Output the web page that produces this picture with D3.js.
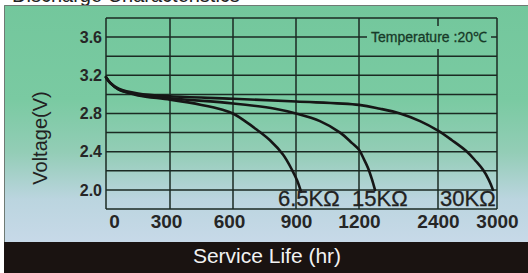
<!DOCTYPE html>
<html>
<head>
<meta charset="utf-8">
<script src="https://cdn.jsdelivr.net/npm/d3@7"></script>
<style>
  body { margin: 0; background: #fff; }
  svg { display: block; font-family: "Liberation Sans", Arial, sans-serif; }
</style>
</head>
<body>
<svg id="canvas"></svg>
<script>
// ---- data ----
let seriesNames = ["6.5KΩ", "15KΩ", "30KΩ"];
let hours65 = [0, 20, 60, 150, 300, 450, 550, 600, 657, 714, 776, 838, 881, 905, 924];
let volts65 = [3.18, 3.12, 3.05, 2.99, 2.945, 2.89, 2.84, 2.80, 2.72, 2.63, 2.52, 2.37, 2.21, 2.10, 1.98];
let hours15 = [0, 20, 60, 150, 300, 600, 800, 900, 1014, 1110, 1167, 1200, 1276, 1337, 1397, 1443];
let volts15 = [3.18, 3.12, 3.05, 3.0, 2.96, 2.905, 2.85, 2.80, 2.72, 2.60, 2.49, 2.42, 2.32, 2.23, 2.11, 2.0];
let hours30 = [0, 20, 60, 150, 300, 600, 900, 1200, 1519, 1823, 2127, 2400, 2542, 2695, 2786, 2858, 2919, 2959];
let volts30 = [3.18, 3.12, 3.06, 3.01, 2.98, 2.955, 2.925, 2.89, 2.85, 2.80, 2.72, 2.62, 2.52, 2.40, 2.30, 2.21, 2.10, 2.0];
let xTicks = [0, 300, 600, 900, 1200, 2400, 3000];
let yTicks = [3.6, 3.2, 2.8, 2.4, 2.0];
let yGrid = [1.8, 2.0, 2.2, 2.4, 2.6, 2.8, 3.0, 3.2, 3.4, 3.6, 3.8];

let width = 528;
let height = 273;
let plotLeft = 106, plotRight = 497, plotTop = 18, plotBottom = 209;

let canvas = d3.select("#canvas").attr("width", width).attr("height", height);

// uneven hour axis: each tick gets its own column
let xScale = d3.scaleLinear().domain(xTicks).range([106, 170, 233, 296, 359, 438, 497]);
let yScale = d3.scaleLinear().domain([1.8, 3.8]).range([plotBottom, plotTop]);

let defs = canvas.append("defs");
let grad = defs.append("linearGradient")
  .attr("id", "bg").attr("gradientUnits", "userSpaceOnUse")
  .attr("x1", 0).attr("y1", 5).attr("x2", 0).attr("y2", 242);
grad.append("stop").attr("offset", "0%").attr("stop-color", "#73c79c");
grad.append("stop").attr("offset", "40%").attr("stop-color", "#7acaa2");
grad.append("stop").attr("offset", "62%").attr("stop-color", "#93cdb6");
grad.append("stop").attr("offset", "82%").attr("stop-color", "#bbd5df");
grad.append("stop").attr("offset", "100%").attr("stop-color", "#c7d9e8");

// heading above the panel, mostly hidden like the source crop
canvas.append("text")
  .attr("x", 12).attr("y", 1.5)
  .attr("font-size", 20).attr("fill", "#222")
  .text("Discharge Characteristics");

// panel
canvas.append("rect")
  .attr("x", 4).attr("y", 5).attr("width", width - 4).attr("height", 237)
  .attr("fill", "url(#bg)");
canvas.append("path")
  .attr("d", "M4.5,273V5.5H528")
  .attr("fill", "none").attr("stroke", "#6f7a74").attr("stroke-width", 1);

// bottom bar
canvas.append("rect")
  .attr("x", 4).attr("y", 242).attr("width", width - 4).attr("height", 31)
  .attr("fill", "#1a1311");
canvas.append("text")
  .attr("x", 267).attr("y", 263)
  .attr("text-anchor", "middle")
  .attr("font-size", 21).attr("fill", "#f2f2f2")
  .text("Service Life (hr)");

// grid
let gridColor = "#1b2a23";
canvas.append("g")
  .selectAll("line")
  .data(yGrid)
  .enter()
  .append("line")
  .attr("x1", plotLeft).attr("x2", plotRight)
  .attr("y1", (d) => yScale(d)).attr("y2", (d) => yScale(d))
  .attr("stroke", gridColor).attr("stroke-width", 1.5);

canvas.append("g")
  .selectAll("line")
  .data(xTicks)
  .enter()
  .append("line")
  .attr("x1", (d) => xScale(d)).attr("x2", (d) => xScale(d))
  .attr("y1", plotTop).attr("y2", plotBottom)
  .attr("stroke", gridColor).attr("stroke-width", 1.5);

// temperature note box knocks out the grid
canvas.append("rect")
  .attr("x", 367).attr("y", 26).attr("width", 124).attr("height", 23)
  .attr("fill", "url(#bg)");
canvas.append("text")
  .attr("x", 429).attr("y", 42)
  .attr("text-anchor", "middle")
  .attr("font-size", 14).attr("fill", "#173a28")
  .attr("stroke", "#173a28").attr("stroke-width", 0.3)
  .text("Temperature :20℃");

// axes (labels only)
let xAxis = d3.axisBottom(xScale).tickValues(xTicks).tickSize(0).tickPadding(6).tickFormat(d3.format("d"));
let gx = canvas.append("g")
  .attr("transform", "translate(0," + plotBottom + ")")
  .call(xAxis);
gx.select(".domain").remove();
gx.selectAll("text")
  .attr("font-size", 19).attr("font-weight", "bold").attr("fill", "#262626")
  .attr("font-family", "'Liberation Sans', Arial, sans-serif")
  .attr("dx", (d) => (d === 0 ? 8 : d === 300 || d === 600 ? -4 : 0));

let yAxis = d3.axisLeft(yScale).tickValues(yTicks).tickSize(0).tickPadding(4).tickFormat(d3.format(".1f"));
let gy = canvas.append("g")
  .attr("transform", "translate(" + plotLeft + ",0)")
  .call(yAxis);
gy.select(".domain").remove();
gy.selectAll("text")
  .attr("font-size", 16).attr("font-weight", "bold").attr("fill", "#262626")
  .attr("font-family", "'Liberation Sans', Arial, sans-serif");

canvas.append("text")
  .attr("transform", "translate(47,138) rotate(-90)")
  .attr("text-anchor", "middle")
  .attr("font-size", 20).attr("fill", "#222")
  .text("Voltage(V)");

// discharge curves
let series = [
  d3.zip(hours65, volts65),
  d3.zip(hours15, volts15),
  d3.zip(hours30, volts30)
];
let line = d3.line()
  .x((d) => xScale(d[0]))
  .y((d) => yScale(d[1]))
  .curve(d3.curveCatmullRom.alpha(0.5));

canvas.append("g")
  .selectAll("path")
  .data(series)
  .enter()
  .append("path")
  .attr("d", line)
  .attr("fill", "none")
  .attr("stroke", "#161616")
  .attr("stroke-width", 2.6)
  .attr("stroke-linecap", "round");

// curve labels
let labelX = [xScale(900) - 18, xScale(1200) - 7, xScale(2400) + 2];
canvas.append("g")
  .selectAll("text")
  .data(seriesNames)
  .enter()
  .append("text")
  .attr("x", (d, i) => labelX[i])
  .attr("y", 206)
  .attr("font-size", 22)
  .attr("fill", "#222")
  .attr("stroke", "#222").attr("stroke-width", 0.3)
  .text((d) => d);
</script>
</body>
</html>
